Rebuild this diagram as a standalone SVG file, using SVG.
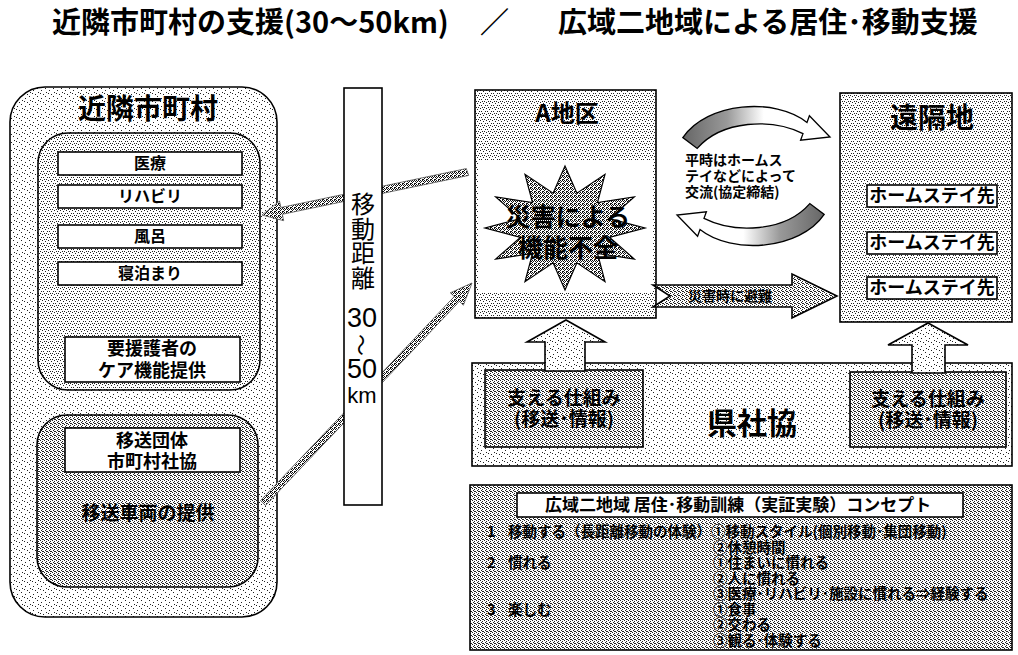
<svg xmlns="http://www.w3.org/2000/svg" width="1018" height="655" viewBox="0 0 1018 655">
<defs>
<style>
text{font-family:"Noto Sans CJK JP","Noto Sans CJK SC",sans-serif;fill:#000}
.t{text-anchor:middle}
.b{font-weight:bold}
.box{stroke:#000;stroke-width:1.6}
.wbox{fill:#fff;stroke:#000;stroke-width:1.6}
.lat{font-family:"Liberation Sans",sans-serif}
</style>
<pattern id="stipL" width="8" height="8" patternUnits="userSpaceOnUse"><rect width="8" height="8" fill="#fff"/><path d="M1 2h1v1h-1zM5 0h1v1h-1zM3 6h1v1h-1zM6 4h1v1h-1zM0 5h1v1h-1z" fill="#222"/></pattern>
<pattern id="stipM" width="6" height="6" patternUnits="userSpaceOnUse"><rect width="6" height="6" fill="#fff"/><path d="M0 0h1v1h-1zM3 1h1v1h-1zM5 3h1v1h-1zM1 3h1v1h-1zM4 5h1v1h-1zM2 5h1v1h-1z" fill="#222"/></pattern>
<pattern id="stipD" width="4" height="4" patternUnits="userSpaceOnUse"><rect width="4" height="4" fill="#fff"/><path d="M0 0h1v1h-1zM2 1h1v1h-1zM1 2h1v1h-1zM3 3h1v1h-1zM2 3h1v1h-1z" fill="#222"/></pattern>
<pattern id="stipX" width="4" height="4" patternUnits="userSpaceOnUse"><rect width="4" height="4" fill="#fff"/><path d="M0 0h1v1h-1zM2 0h1v1h-1zM1 1h1v1h-1zM3 1h1v1h-1zM0 2h1v1h-1zM2 3h1v1h-1zM3 3h1v1h-1z" fill="#111"/></pattern>
<linearGradient id="cycG" x1="0" y1="0" x2="1" y2="0"><stop offset="0" stop-color="#666"/><stop offset="0.3" stop-color="#999"/><stop offset="0.55" stop-color="#fff"/></linearGradient>
<path id="cyc" d="M682.8 137.6 C707 102 775 97 807 122.4 L809.4 115.8 L830 137 L800.6 140.2 L803 133.6 C772 118 722 120 697.2 148.4 Z"/>
</defs>
<rect width="1018" height="655" fill="#fff"/>

<g id="title">
<text x="52" y="33" font-size="29" class="b">近隣市町村の支援(30〜50km)</text>
<text x="480" y="33" font-size="29" class="b">／</text>
<text x="558" y="33" font-size="29" class="b">広域二地域による居住･移動支援</text>
</g>

<g id="neighbor">
<rect x="10" y="87" width="267" height="530" rx="35" fill="url(#stipL)" class="box"/>
<text x="148" y="119" font-size="28" class="t b">近隣市町村</text>
</g>

<g id="care">
<rect x="38" y="133" width="222" height="257" rx="30" fill="url(#stipM)" class="box"/>
<g id="item-iryo"><rect x="58" y="152" width="184" height="23" class="wbox"/><text x="150" y="169" font-size="16" class="t b">医療</text></g>
<g id="item-rehab"><rect x="58" y="185" width="184" height="23" class="wbox"/><text x="150" y="202" font-size="16" class="t b">リハビリ</text></g>
<g id="item-furo"><rect x="58" y="225" width="184" height="23" class="wbox"/><text x="150" y="242" font-size="16" class="t b">風呂</text></g>
<g id="item-tomari"><rect x="58" y="262" width="184" height="23" class="wbox"/><text x="150" y="279" font-size="16" class="t b">寝泊まり</text></g>
<g id="item-care"><rect x="65" y="337" width="175" height="45" class="wbox"/><text x="152" y="355" font-size="18" class="t b">要援護者の</text><text x="152" y="377" font-size="18" class="t b">ケア機能提供</text></g>
</g>

<g id="transport">
<rect x="37" y="415" width="221" height="172" rx="30" fill="url(#stipD)" class="box"/>
<g id="item-org"><rect x="65" y="428" width="175" height="44" class="wbox"/><text x="152" y="447" font-size="18" class="t b">移送団体</text><text x="152" y="468" font-size="18" class="t b">市町村社協</text></g>
<text x="148" y="520" font-size="19" class="t b">移送車両の提供</text>
</g>

<g id="areaA">
<rect x="475" y="90" width="181" height="228" fill="url(#stipM)" class="box"/>
<rect x="478" y="160" width="175" height="132" fill="#fff"/>
<text x="567" y="122" font-size="24" class="t b">A地区</text>
<polygon points="565,166 576.9,193.2 605,174.3 597.5,202.5 634.3,197 609.4,218.7 645,228 609.4,237.3 634.3,259 597.5,253.5 605,281.7 576.9,262.8 565,290 553.1,262.8 525,281.7 532.5,253.5 495.7,259 520.6,237.3 485,228 520.6,218.7 495.7,197 532.5,202.5 525,174.3 553.1,193.2" fill="url(#stipX)" stroke="#000" stroke-width="1.2"/>
<text x="568" y="226" font-size="25" class="t b">災害による</text>
<text x="568" y="257" font-size="25" class="t b">機能不全</text>
</g>

<g id="remote">
<rect x="840" y="93" width="172" height="229" fill="url(#stipM)" class="box"/>
<text x="932" y="128" font-size="28" class="t b">遠隔地</text>
<g id="hs1"><rect x="867" y="185" width="130" height="22" class="wbox"/><text x="932" y="202" font-size="18" class="t b">ホームステイ先</text></g>
<g id="hs2"><rect x="867" y="232" width="130" height="22" class="wbox"/><text x="932" y="249" font-size="18" class="t b">ホームステイ先</text></g>
<g id="hs3"><rect x="867" y="277" width="130" height="22" class="wbox"/><text x="932" y="294" font-size="18" class="t b">ホームステイ先</text></g>
</g>

<g id="exchange-note">
<text x="685" y="165" font-size="14" class="b">平時はホームス</text>
<text x="685" y="181" font-size="14" class="b">テイなどによって</text>
<text x="685" y="197" font-size="14" class="b">交流(協定締結)</text>
</g>

<g id="kenshakyo">
<rect x="472" y="363" width="540" height="103" fill="url(#stipL)" class="box"/>
<text x="752" y="434" font-size="30" class="t b">県社協</text>
</g>

<g id="support-left">
<rect x="485" y="370" width="158" height="77" fill="url(#stipD)" class="box"/>
<text x="564" y="405" font-size="19" class="t b">支える仕組み</text>
<text x="564" y="426" font-size="19" class="t b">(移送･情報)</text>
</g>

<g id="support-right">
<rect x="850" y="372" width="156" height="75" fill="url(#stipD)" class="box"/>
<text x="928" y="406" font-size="19" class="t b">支える仕組み</text>
<text x="928" y="427" font-size="19" class="t b">(移送･情報)</text>
</g>

<g id="connectors">
<polygon points="468.7,175.4 282.3,214.3 283.7,220.7 262,215 279.5,201.1 280.9,207.5 466.3,168.6" fill="url(#stipX)" stroke="#555" stroke-width="0.8"/>
<polygon points="265.5,505.4 459.4,301.4 463.4,305.2 472,283 450.3,292.8 454.3,296.5 260.5,500.6" fill="url(#stipX)" stroke="#555" stroke-width="0.8"/>
<polygon points="653,285 792,285 792,274 837,296 792,318 792,307 653,307 670,296" fill="url(#stipD)" class="box"/>
<text x="730" y="301" font-size="14" class="t b">災害時に避難</text>
<polygon points="566,320 605,342 585,342 585,371 545,371 545,342 527,342" fill="url(#stipL)" class="box"/>
<polygon points="928,323 968,345 945,345 945,373 912,373 912,345 888,345" fill="url(#stipL)" class="box"/>
<use href="#cyc" fill="url(#cycG)" stroke="#000" stroke-width="1.3"/>
<use href="#cyc" fill="url(#cycG)" stroke="#000" stroke-width="1.3" transform="rotate(180 753.5 176)"/>
</g>

<g id="distance-bar">
<rect x="344" y="88" width="38" height="417" fill="#fff" class="box"/>
<text x="363" y="192" font-size="24" writing-mode="vertical-rl" letter-spacing="0.5">移動距離</text>
<text x="362" y="327" font-size="27" class="t lat">30</text>
<text x="363" y="345" font-size="22" class="t" transform="rotate(90 363 345)" dominant-baseline="central">〜</text>
<text x="362" y="378" font-size="27" class="t lat">50</text>
<text x="362" y="403" font-size="22" class="t lat">km</text>
</g>

<g id="concept">
<rect x="470" y="485" width="542" height="165" fill="url(#stipD)" class="box"/>
<rect x="517" y="493" width="446" height="24" fill="#fff" class="box"/>
<text x="545" y="511" font-size="17" class="b">広域二地域 居住･移動訓練（実証実験）コンセプト</text>
<text font-size="14.5" class="b"><tspan x="487" y="537">1</tspan><tspan x="508" y="537">移動する（長距離移動の体験）①移動スタイル(個別移動･集団移動)</tspan><tspan x="713" y="552.5">②休憩時間</tspan><tspan x="487" y="568">2</tspan><tspan x="508" y="568">慣れる</tspan><tspan x="713" y="568">①住まいに慣れる</tspan><tspan x="713" y="583.5">②人に慣れる</tspan><tspan x="713" y="599">③医療･リハビリ･施設に慣れる⇒経験する</tspan><tspan x="487" y="614.5">3</tspan><tspan x="508" y="614.5">楽しむ</tspan><tspan x="713" y="614.5">①食事</tspan><tspan x="713" y="630">②交わる</tspan><tspan x="713" y="645.5">③観る･体験する</tspan></text>
</g>
</svg>
